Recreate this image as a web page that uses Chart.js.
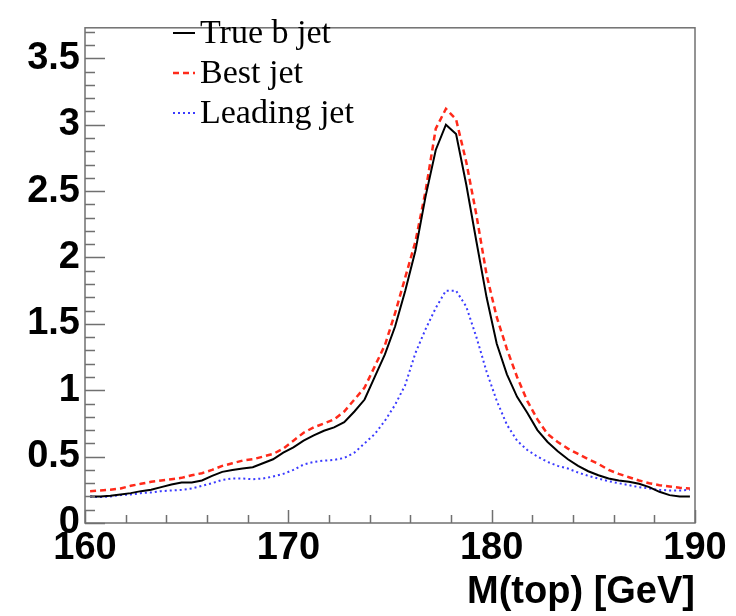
<!DOCTYPE html>
<html><head><meta charset="utf-8">
<script src="https://cdn.jsdelivr.net/npm/chart.js@4.4.1/dist/chart.umd.min.js"></script>
<style>html,body{margin:0;padding:0;background:#fff;} #wrap{width:736px;height:616px;}</style>
</head><body><div id="wrap"><canvas id="c" width="736" height="616"></canvas></div>
<script>
const massBins = [160.25,160.75,161.25,161.75,162.25,162.75,163.25,163.75,164.25,164.75,
  165.25,165.75,166.25,166.75,167.25,167.75,168.25,168.75,169.25,169.75,
  170.25,170.75,171.25,171.75,172.25,172.75,173.25,173.75,174.25,174.75,
  175.25,175.75,176.25,176.75,177.25,177.75,178.25,178.75,179.25,179.75,
  180.25,180.75,181.25,181.75,182.25,182.75,183.25,183.75,184.25,184.75,
  185.25,185.75,186.25,186.75,187.25,187.75,188.25,188.75,189.25,189.75];
const trueBJet = [0.20,0.20,0.205,0.215,0.225,0.24,0.25,0.27,0.29,0.305,
  0.305,0.32,0.355,0.385,0.40,0.41,0.42,0.45,0.48,0.53,
  0.57,0.62,0.66,0.695,0.72,0.76,0.84,0.93,1.10,1.27,
  1.48,1.75,2.05,2.46,2.81,3.00,2.93,2.55,2.12,1.70,
  1.35,1.12,0.95,0.83,0.70,0.61,0.54,0.48,0.43,0.39,
  0.36,0.335,0.32,0.31,0.295,0.27,0.235,0.21,0.20,0.20];
const bestJet = [0.24,0.245,0.25,0.26,0.28,0.295,0.31,0.32,0.33,0.34,
  0.36,0.375,0.40,0.43,0.45,0.47,0.48,0.50,0.52,0.56,
  0.62,0.68,0.72,0.75,0.78,0.84,0.93,1.02,1.18,1.34,
  1.58,1.85,2.12,2.50,2.97,3.12,3.04,2.72,2.32,1.87,
  1.55,1.31,1.10,0.92,0.78,0.67,0.61,0.56,0.52,0.48,
  0.445,0.40,0.37,0.345,0.32,0.30,0.285,0.275,0.265,0.26];
const leadingJet = [0.20,0.195,0.20,0.21,0.215,0.225,0.23,0.24,0.245,0.25,
  0.26,0.28,0.30,0.325,0.335,0.335,0.33,0.335,0.35,0.37,
  0.40,0.44,0.46,0.47,0.475,0.49,0.53,0.60,0.67,0.77,
  0.89,1.04,1.28,1.46,1.62,1.75,1.75,1.63,1.40,1.14,
  0.92,0.74,0.62,0.55,0.50,0.46,0.43,0.41,0.38,0.355,
  0.335,0.315,0.30,0.285,0.27,0.26,0.25,0.245,0.245,0.25];
const seriesLabels = ['True b jet','Best jet','Leading jet'];
const xTickValues = [160,170,180,190];
const yTickValues = [0,0.5,1,1.5,2,2.5,3,3.5];
const xAxisTitle = 'M(top) [GeV]';

const toPts = arr => massBins.map((m,i)=>({x:m,y:arr[i]}));
const axisColor = '#707070';

const innerTicks = {
  id:'innerTicks',
  afterDatasetsDraw(chart){
    const {ctx, chartArea:a, scales:{x,y}} = chart;
    ctx.save();
    ctx.strokeStyle = axisColor; ctx.lineWidth = 1.5;
    ctx.strokeRect(a.left, a.top, a.right-a.left, a.bottom-a.top);
    ctx.beginPath();
    for (let k=0; k<=37; k++){
      const v = k/10;
      const py = Math.round(y.getPixelForValue(v))+0.5;
      const len = (k%5===0) ? 20 : 10;
      ctx.moveTo(a.left, py); ctx.lineTo(a.left+len, py);
    }
    for (let k=0; k<=15; k++){
      const v = 160 + 2*k;
      const px = Math.round(x.getPixelForValue(v))+0.5;
      const len = ((v-160)%10===0) ? 13 : 8;
      ctx.moveTo(px, a.bottom); ctx.lineTo(px, a.bottom-len);
    }
    ctx.stroke();
    ctx.restore();
  }
};

const innerLegend = {
  id:'innerLegend',
  afterDraw(chart){
    const {ctx} = chart;
    ctx.save();
    ctx.font = '34px "Liberation Serif", "DejaVu Serif", serif';
    ctx.textBaseline = 'middle';
    ctx.fillStyle = '#000';
    chart.data.datasets.forEach((ds,i)=>{
      const yy = 33 + i*40;
      ctx.strokeStyle = ds.borderColor;
      ctx.lineWidth = ds.borderWidth;
      ctx.setLineDash(ds.borderDash || []);
      ctx.beginPath(); ctx.moveTo(173, yy); ctx.lineTo(195, yy); ctx.stroke();
      ctx.setLineDash([]);
      ctx.fillText(ds.label, 200, yy+1);
    });
    ctx.restore();
  }
};

const tickFont = {family:'"Liberation Sans", Arial, sans-serif', size:38, weight:'bold'};

new Chart(document.getElementById('c'), {
  type:'line',
  data:{datasets:[
    {label:seriesLabels[0], data:toPts(trueBJet), borderColor:'#000000', borderWidth:2, borderDash:[], pointRadius:0, tension:0, fill:false},
    {label:seriesLabels[1], data:toPts(bestJet), borderColor:'#ff2a1a', borderWidth:2.5, borderDash:[6,4], pointRadius:0, tension:0, fill:false},
    {label:seriesLabels[2], data:toPts(leadingJet), borderColor:'#3a3aff', borderWidth:2, borderDash:[2,3], pointRadius:0, tension:0, fill:false}
  ]},
  options:{
    responsive:false, animation:false, devicePixelRatio:1,
    layout:{padding:{top:9,right:41,left:0,bottom:0}},
    plugins:{legend:{display:false}, tooltip:{enabled:false}},
    scales:{
      x:{type:'linear', min:160, max:190,
        afterBuildTicks:s=>{s.ticks = xTickValues.map(v=>({value:v}));},
        afterFit:s=>{s.height = 93;},
        grid:{display:false, drawTicks:false}, border:{display:false},
        ticks:{font:tickFont, color:'#000', padding:3, maxRotation:0, autoSkip:false},
        title:{display:true, text:xAxisTitle, align:'end', color:'#000', font:{family:'"Liberation Sans", Arial, sans-serif', size:38, weight:'bold'}, padding:{top:0,bottom:1}}
      },
      y:{type:'linear', min:0, max:3.73,
        afterBuildTicks:s=>{s.ticks = yTickValues.map(v=>({value:v}));},
        afterFit:s=>{s.width = 85;},
        grid:{display:false, drawTicks:false}, border:{display:false},
        ticks:{font:tickFont, color:'#000', padding:5, autoSkip:false, callback:v=>String(v)}
      }
    }
  },
  plugins:[innerTicks, innerLegend]
});
</script></body></html>
